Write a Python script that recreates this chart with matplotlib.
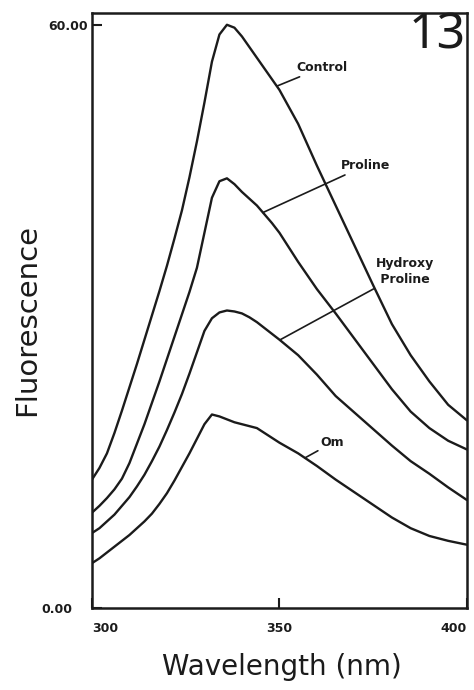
import numpy as np
import matplotlib
matplotlib.use("Agg")
import matplotlib.pyplot as plt

# Emission wavelength (nm)
wavelength = [300, 302, 304, 306, 308, 310, 312, 314, 316, 318, 320, 322, 324, 326, 328,
              330, 332, 334, 336, 338, 340, 342, 344, 346, 348, 350,
              355, 360, 365, 370, 375, 380, 385, 390, 395, 400]

# Fluorescence intensity of each sample
control = [13.2, 14.4, 15.9, 18.0, 20.3, 22.7, 25.1, 27.6, 30.1, 32.6, 35.2, 38.0, 40.9, 44.3, 48.0,
           52.0, 56.2, 59.0, 60.0, 59.7, 58.8, 57.7, 56.6, 55.5, 54.4, 53.3,
           49.8, 45.5, 41.4, 37.3, 33.2, 29.2, 26.0, 23.3, 20.9, 19.3]
proline = [9.8, 10.5, 11.3, 12.2, 13.3, 14.9, 16.9, 18.9, 21.1, 23.3, 25.6, 27.9, 30.2, 32.5, 35.0,
           38.6, 42.2, 43.9, 44.2, 43.6, 42.8, 42.1, 41.4, 40.5, 39.6, 38.6,
           35.6, 32.8, 30.3, 27.7, 25.1, 22.5, 20.2, 18.5, 17.2, 16.3]
hydroxy_proline = [7.7, 8.2, 8.9, 9.6, 10.5, 11.4, 12.5, 13.7, 15.1, 16.6, 18.3, 20.1, 22.0, 24.1, 26.3,
                   28.5, 29.8, 30.4, 30.6, 30.5, 30.3, 29.9, 29.4, 28.8, 28.2, 27.6,
                   26.0, 24.0, 21.8, 20.1, 18.4, 16.7, 15.1, 13.8, 12.4, 11.1]
om = [4.6, 5.1, 5.7, 6.3, 6.9, 7.5, 8.2, 8.9, 9.7, 10.7, 11.8, 13.1, 14.5, 15.9, 17.4,
      18.9, 19.9, 19.7, 19.4, 19.1, 18.9, 18.7, 18.5, 18.0, 17.5, 17.0,
      15.9, 14.6, 13.2, 11.9, 10.6, 9.3, 8.2, 7.4, 6.9, 6.5]

x_ticks = [300, 350, 400]
x_tick_labels = ["300", "350", "400"]
y_ticks = [0, 60]
y_tick_labels = ["0.00", "60.00"]

ink = "#1b1b1b"

fig = plt.figure(figsize=(4.74, 6.9), dpi=100)
ax = fig.add_axes([0.194, 0.119, 0.791, 0.862])

for series in (control, proline, hydroxy_proline, om):
    ax.plot(wavelength, series, color=ink, lw=1.7, solid_capstyle="round",
            solid_joinstyle="round")

ax.set_xlim(300, 400)
ax.set_ylim(0, 61.2)

for s in ax.spines.values():
    s.set_linewidth(1.8)
    s.set_color(ink)

ax.set_xticks(x_ticks)
ax.set_xticklabels(x_tick_labels)
ax.set_yticks(y_ticks)
ax.set_yticklabels(y_tick_labels)
ax.tick_params(direction="in", length=7, width=1.5, color=ink, labelcolor=ink,
               labelsize=9)
for lab in ax.get_xticklabels() + ax.get_yticklabels():
    lab.set_fontweight("bold")
ax.tick_params(axis="x", pad=10)
ax.get_xticklabels()[0].set_ha("left")
ax.get_xticklabels()[-1].set_ha("right")
yt = ax.yaxis.get_major_ticks()
yt[0].set_pad(14)
yt[1].set_pad(3)

ax.set_xlabel("Wavelength (nm)", fontsize=20, color=ink)
ax.xaxis.set_label_coords(0.507, -0.099)
ax.xaxis.label.set_va("center")
ax.set_ylabel("Fluorescence", fontsize=21, color=ink)
ax.yaxis.set_label_coords(-0.173, 0.484)
ax.yaxis.label.set_va("center")

# Curve labels with leader lines
def leader(series, x0, text_xy, text, **kw):
    y0 = np.interp(x0, wavelength, series)
    ax.annotate(text, xy=(x0, y0), xytext=text_xy, fontsize=9, fontweight="bold",
                color=ink, va="center", ha="left",
                arrowprops=dict(arrowstyle="-", color=ink, lw=1.2,
                                shrinkA=0, shrinkB=0), **kw)

leader(control, 349.3, (354.6, 55.6), "Control")
leader(proline, 345.6, (366.3, 45.5), "Proline")
leader(hydroxy_proline, 350.1, (375.8, 34.6), "Hydroxy\n Proline", linespacing=1.3)
leader(om, 356.8, (361.0, 17.0), "Om")

# Panel number
ax.text(399.7, 58.9, "13", fontsize=36, color=ink, ha="right", va="center",
        family="Noto Sans", fontstretch="extra-condensed", fontweight="light")

fig.savefig("out.png", dpi=100, facecolor="white")
